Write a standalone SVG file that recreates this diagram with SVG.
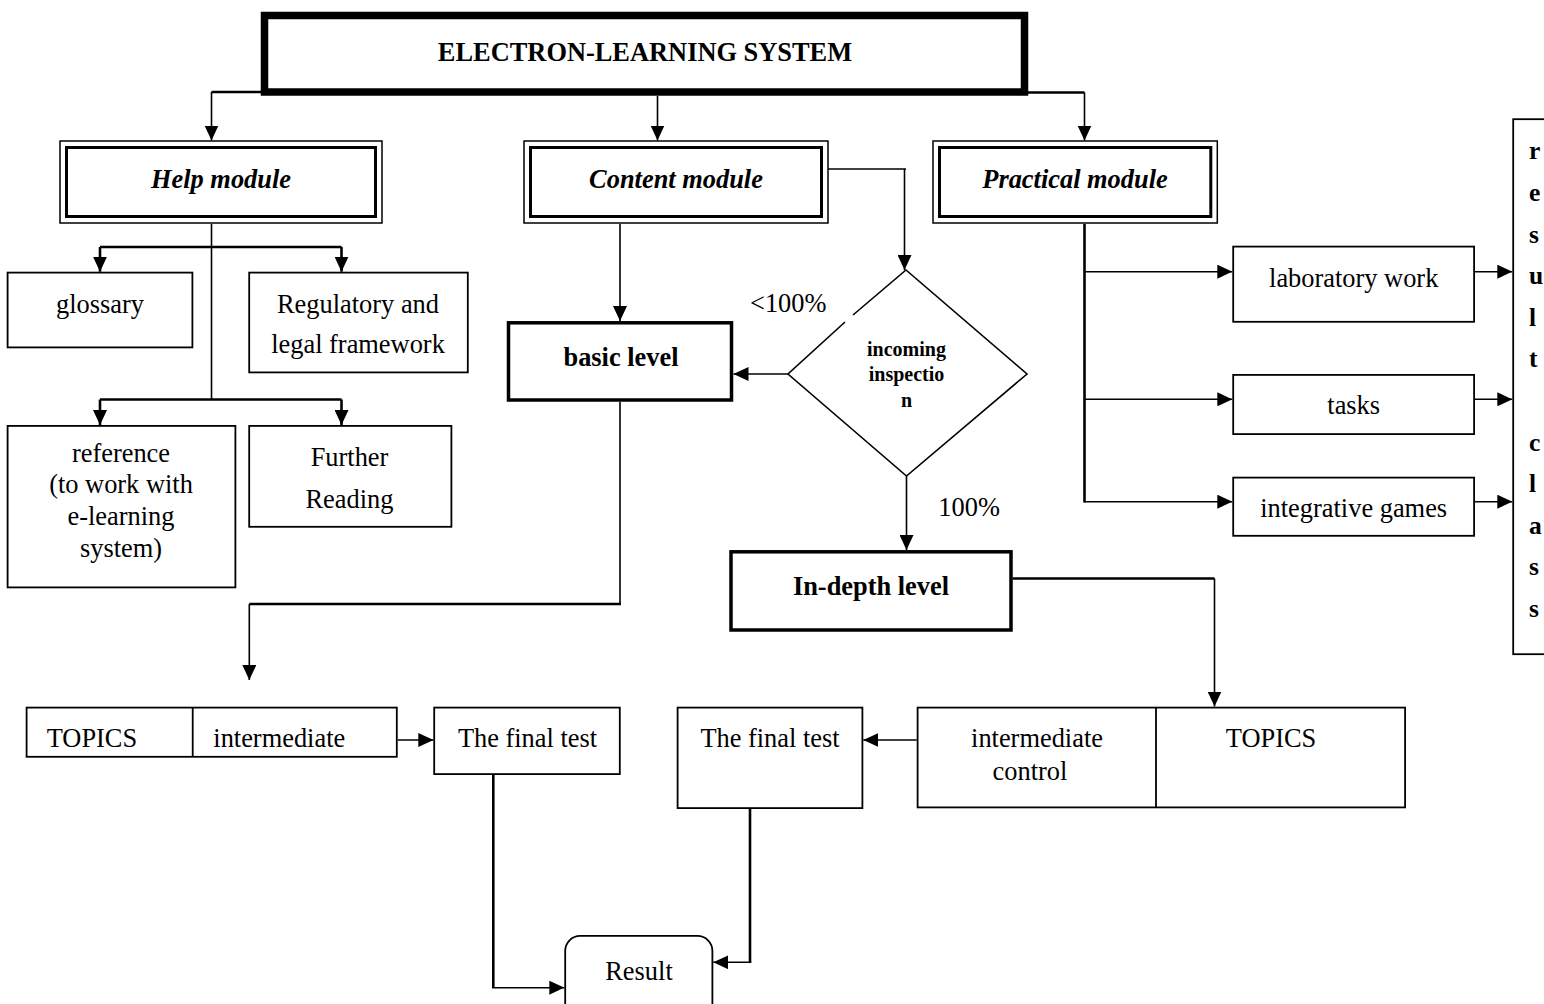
<svg xmlns="http://www.w3.org/2000/svg" width="1544" height="1004" viewBox="0 0 1544 1004">
<defs>
<style>
.box{fill:#fff;stroke:#000;stroke-width:1.8}
.thick{fill:#fff;stroke:#000;stroke-width:3.5}
.top{fill:#fff;stroke:#000;stroke-width:7.5}
.dbo{fill:#fff;stroke:#000;stroke-width:1.5}
.dbi{fill:none;stroke:#000;stroke-width:3}
.t{font-family:"Liberation Serif","Times New Roman",serif;font-size:26.4px;fill:#000}
.c{text-anchor:middle}
.b{font-weight:bold}
.bi{font-weight:bold;font-style:italic}
.ln{fill:none;stroke:#000;stroke-width:1.6}
.lk{fill:none;stroke:#000;stroke-width:2.6}
.a{marker-end:url(#arr)}
.v{font-size:25.5px}
</style>
<marker id="arr" viewBox="0 0 15 14" refX="15" refY="7" markerWidth="15" markerHeight="14" markerUnits="userSpaceOnUse" orient="auto">
<path d="M0,0 L15,7 L0,14 z" fill="#000"/>
</marker>
</defs>
<rect width="1544" height="1004" fill="#fff"/>

<g id="connectors">
<path class="lk" d="M261,92 H211.5"/>
<path class="ln a" d="M211.5,92 V140.5"/>
<path class="ln a" d="M657.5,96 V140.5"/>
<path class="lk" d="M1028,92.5 H1084.5"/>
<path class="ln a" d="M1084.5,92.5 V140.5"/>
<path class="ln" d="M211.5,224 V400"/>
<path class="lk" d="M100,247 H341.5"/>
<path class="lk a" d="M100,247 V271.7"/>
<path class="lk a" d="M341.5,247 V271.7"/>
<path class="lk" d="M100,399.5 H341.5"/>
<path class="lk a" d="M100,399.5 V425"/>
<path class="lk a" d="M341.5,399.5 V425"/>
<path class="ln a" d="M620,224 V321"/>
<path class="ln" d="M824,169 H906"/>
<path class="ln a" d="M904.5,169 V270"/>
<path class="ln a" d="M788,374 H733.5"/>
<path class="ln a" d="M906.5,476 V550"/>
<path class="ln" d="M620,401.7 V604"/>
<path class="lk" d="M621,604 H249.3"/>
<path class="ln a" d="M249.3,604 V680"/>
<path class="lk" d="M1012.5,578.5 H1214.5"/>
<path class="ln a" d="M1214.5,578.5 V706.5"/>
<path class="lk" d="M1084.5,224 V502.5"/>
<path class="ln a" d="M1084.5,271.7 H1232.3"/>
<path class="ln a" d="M1084.5,399.3 H1232.3"/>
<path class="ln a" d="M1084.5,501.7 H1232.3"/>
<path class="ln a" d="M1475,271.7 H1512.3"/>
<path class="ln a" d="M1475,399.3 H1512.3"/>
<path class="ln a" d="M1475,501.7 H1512.3"/>
<path class="ln a" d="M397.7,740 H433.3"/>
<path class="ln a" d="M916.7,740 H863.3"/>
<path class="lk" d="M493.3,775 V987.7"/>
<path class="ln a" d="M492,987.7 H564.3"/>
<path class="lk" d="M750,809 V962.3"/>
<path class="ln a" d="M751.3,962.3 H713.3"/>
</g>

<g id="n-system">
<rect class="top" x="264.5" y="15.5" width="760" height="76.5"/>
<text class="t b c" x="645" y="60.5">ELECTRON-LEARNING SYSTEM</text>
</g>

<g id="n-help">
<rect class="dbo" x="60" y="141" width="322" height="82"/>
<rect class="dbi" x="66.5" y="147.5" width="309" height="69"/>
<text class="t bi c" x="221" y="188">Help module</text>
</g>

<g id="n-content">
<rect class="dbo" x="524" y="141" width="304" height="82"/>
<rect class="dbi" x="530.5" y="147.5" width="291" height="69"/>
<text class="t bi c" x="676" y="188">Content module</text>
</g>

<g id="n-practical">
<rect class="dbo" x="933" y="141" width="284.3" height="82"/>
<rect class="dbi" x="939.5" y="147.5" width="271.3" height="69"/>
<text class="t bi c" x="1075" y="188">Practical module</text>
</g>

<g id="n-glossary">
<rect class="box" x="7.6" y="272.6" width="184.8" height="74.8"/>
<text class="t c" x="100" y="313">glossary</text>
</g>

<g id="n-regulatory">
<rect class="box" x="249.2" y="272.6" width="218.6" height="99.8"/>
<text class="t c" x="358" y="313">Regulatory and</text>
<text class="t c" x="358" y="352.7">legal framework</text>
</g>

<g id="n-reference">
<rect class="box" x="7.6" y="425.9" width="227.8" height="161.5"/>
<text class="t c" x="121" y="461.7">reference</text>
<text class="t c" x="121" y="493.3">(to work with</text>
<text class="t c" x="121" y="525">e-learning</text>
<text class="t c" x="121" y="556.7">system)</text>
</g>

<g id="n-further">
<rect class="box" x="249.2" y="425.9" width="202.2" height="100.9"/>
<text class="t c" x="349.5" y="465.7">Further</text>
<text class="t c" x="349.5" y="508.3">Reading</text>
</g>

<g id="n-basic">
<rect class="thick" x="508.5" y="322.8" width="223" height="77.2"/>
<text class="t b c" x="621" y="366">basic level</text>
</g>

<g id="n-inspection">
<path d="M845,322 L788,374 L906.5,476 L1027,374 L906,270 L853,315" fill="none" stroke="#000" stroke-width="1.6"/>
<text class="t b c" style="font-size:20px" x="906.5" y="355.5">incoming</text>
<text class="t b c" style="font-size:20px" x="906.5" y="381">inspectio</text>
<text class="t b c" style="font-size:20px" x="906.5" y="407">n</text>
</g>

<g id="labels">
<text class="t" x="750" y="311.7">&lt;100%</text>
<text class="t" x="938.3" y="516">100%</text>
</g>

<g id="n-indepth">
<rect class="thick" x="731" y="551.8" width="280" height="78.2"/>
<text class="t b c" x="871" y="595">In-depth level</text>
</g>

<g id="n-lab">
<rect class="box" x="1233.2" y="246.6" width="240.9" height="75.2"/>
<text class="t c" x="1353.7" y="286.7">laboratory work</text>
</g>

<g id="n-tasks">
<rect class="box" x="1233.2" y="374.9" width="240.9" height="59.2"/>
<text class="t c" x="1353.7" y="414.3">tasks</text>
</g>

<g id="n-games">
<rect class="box" x="1233.2" y="477.6" width="240.9" height="58.2"/>
<text class="t c" x="1353.7" y="516.7">integrative games</text>
</g>

<g id="n-resultclass">
<rect class="box" x="1513.2" y="119.2" width="60" height="535"/>
<text class="t b v" x="1529" y="159.3">r</text>
<text class="t b v" x="1529" y="200.9">e</text>
<text class="t b v" x="1529" y="242.5">s</text>
<text class="t b v" x="1529" y="284.1">u</text>
<text class="t b v" x="1529" y="325.7">l</text>
<text class="t b v" x="1529" y="367.3">t</text>
<text class="t b v" x="1529" y="450.5">c</text>
<text class="t b v" x="1529" y="492.1">l</text>
<text class="t b v" x="1529" y="533.7">a</text>
<text class="t b v" x="1529" y="575.3">s</text>
<text class="t b v" x="1529" y="616.9">s</text>
</g>

<g id="n-topics-basic">
<rect class="box" x="26.6" y="707.6" width="370.2" height="49.2"/>
<line x1="192.7" y1="707.6" x2="192.7" y2="756.8" stroke="#000" stroke-width="1.8"/>
<text class="t" x="46.7" y="746.7">TOPICS</text>
<text class="t" x="213.3" y="746.7">intermediate</text>
</g>

<g id="n-final-basic">
<rect class="box" x="434.2" y="707.6" width="185.6" height="66.5"/>
<text class="t c" x="527.5" y="746.7">The final test</text>
</g>

<g id="n-final-indepth">
<rect class="box" x="677.6" y="707.6" width="184.8" height="100.5"/>
<text class="t c" x="770" y="746.7">The final test</text>
</g>

<g id="n-topics-indepth">
<rect class="box" x="917.6" y="707.6" width="487.5" height="99.8"/>
<line x1="1156" y1="707.6" x2="1156" y2="807.4" stroke="#000" stroke-width="1.8"/>
<text class="t c" x="1037" y="746.7">intermediate</text>
<text class="t c" x="1030" y="780">control</text>
<text class="t c" x="1271" y="746.7">TOPICS</text>
</g>

<g id="n-result">
<rect class="box" x="565.2" y="935.9" width="147.2" height="90" rx="15"/>
<text class="t c" x="639" y="980">Result</text>
</g>
</svg>
